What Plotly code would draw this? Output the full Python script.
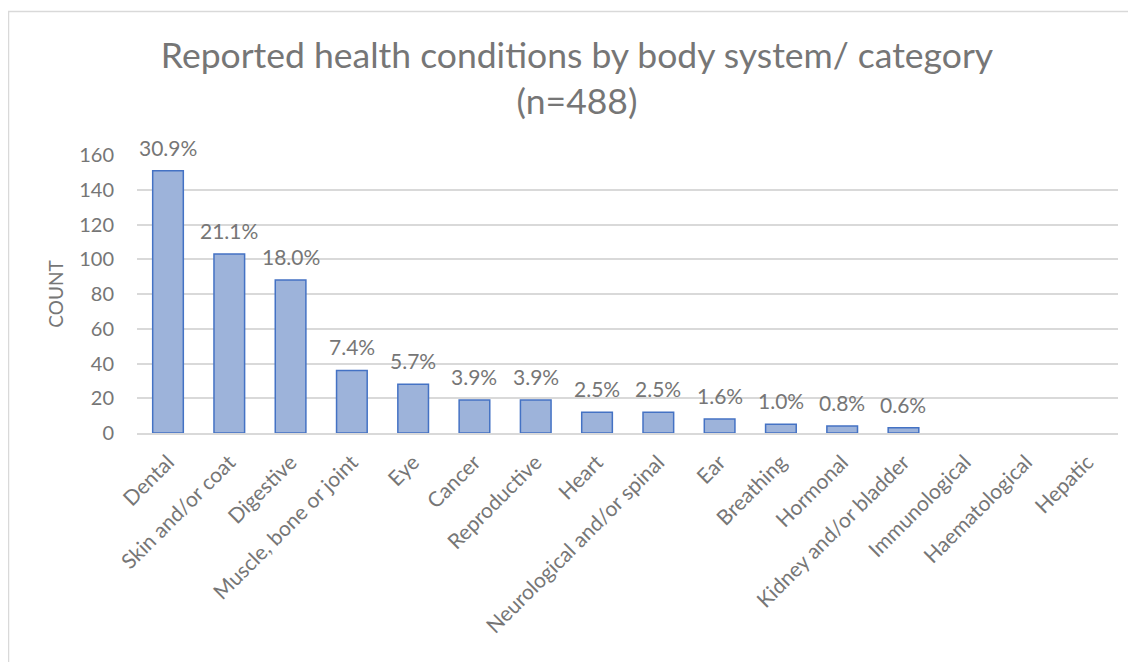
import plotly.graph_objects as go

categories = ["Dental", "Skin and/or coat", "Digestive", "Muscle, bone or joint", "Eye",
              "Cancer", "Reproductive", "Heart", "Neurological and/or spinal", "Ear",
              "Breathing", "Hormonal", "Kidney and/or bladder", "Immunological",
              "Haematological", "Hepatic"]
counts = [151, 103, 88, 36, 28, 19, 19, 12, 12, 8, 5, 4, 3, 0, 0, 0]
pct_labels = ["30.9%", "21.1%", "18.0%", "7.4%", "5.7%", "3.9%", "3.9%", "2.5%", "2.5%",
              "1.6%", "1.0%", "0.8%", "0.6%", "", "", ""]
y_ticks = [0, 20, 40, 60, 80, 100, 120, 140, 160]

FONT = "Lato, Carlito, Calibri, sans-serif"
GRAY = "#767676"

W, H = 1128, 654
ML, MR, MT, MB = 129, 18, 147, 229
PW = W - ML - MR
PH = H - MT - MB

fig = go.Figure()
fig.add_trace(go.Bar(
    x=categories, y=counts,
    marker=dict(color="#9DB3DA",
                line=dict(color="#4472C4", width=[1.5 if v > 0 else 0 for v in counts])),
    hoverinfo="x+y",
))

for c, v, t in zip(categories, counts, pct_labels):
    if t:
        fig.add_annotation(x=c, y=v, text=t, showarrow=False, yanchor="bottom",
                           yshift=9, font=dict(family=FONT, size=21, color=GRAY))

fig.update_layout(
    width=W, height=H,
    margin=dict(l=ML, r=MR, t=MT, b=MB),
    paper_bgcolor="white", plot_bgcolor="white",
    bargap=0.5,
    showlegend=False,
    title=dict(text="Reported health conditions by body system/ category<br>(n=488)",
               x=569 / W, xanchor="center", y=1 - 60 / H, yanchor="top",
               font=dict(family=FONT, size=35.5, color=GRAY)),
    font=dict(family=FONT, color=GRAY),
)
fig.update_xaxes(tickangle=-45, tickfont=dict(family=FONT, size=21, color=GRAY),
                 showline=True, linecolor="#D9D9D9", linewidth=1.5, showgrid=False,
                 ticks="", ticklabelstandoff=7)
fig.update_yaxes(range=[0, 160], tickvals=y_ticks, tickfont=dict(family=FONT, size=20, color=GRAY),
                 showgrid=True, gridcolor="#D9D9D9", gridwidth=1.5, zeroline=False,
                 ticklabelstandoff=22,
                 title=dict(text="COUNT", font=dict(family=FONT, size=19, color=GRAY), standoff=10))

# chart border (top and left edges visible)
fig.add_shape(type="rect", xref="paper", yref="paper",
              x0=(0.5 - ML) / PW, x1=1.2, y0=-1.0, y1=(PH + MT - 3.5) / PH,
              line=dict(color="#D9D9D9", width=1.5), fillcolor="rgba(0,0,0,0)", layer="below")

fig.write_html("out.html")
